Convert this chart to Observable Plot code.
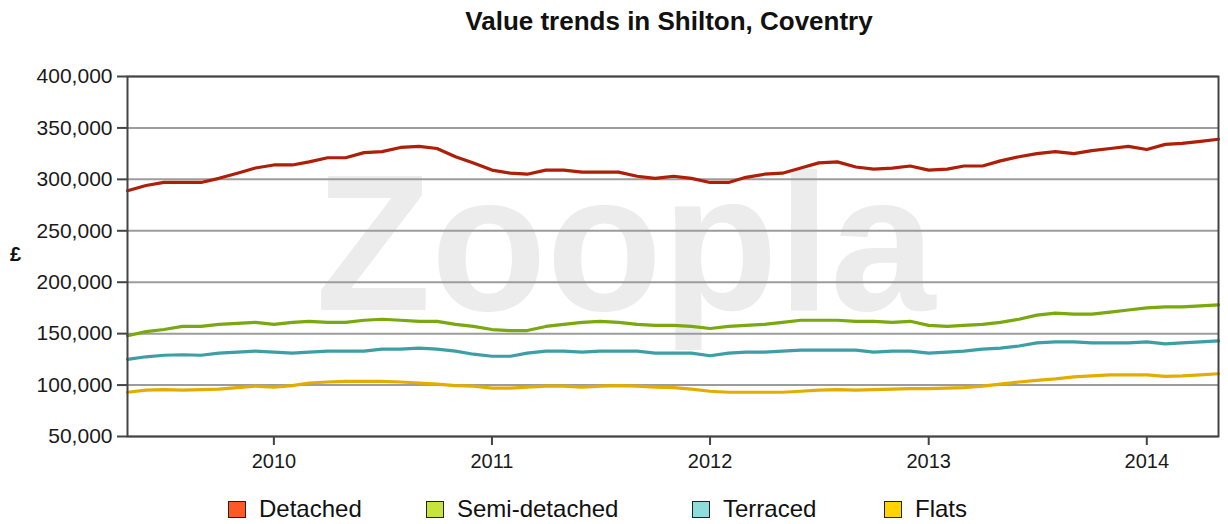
<!DOCTYPE html>
<html><head><meta charset="utf-8">
<script src="https://cdn.jsdelivr.net/npm/d3@7"></script>
<script src="https://cdn.jsdelivr.net/npm/@observablehq/plot@0.6"></script>
<style>
body{margin:0;background:#fff;font-family:"Liberation Sans",Arial,sans-serif;}
#wrap{position:relative;width:1228px;height:524px;overflow:hidden;background:#fff;}
#title{position:absolute;top:8px;left:669px;transform:translateX(-50%);font-weight:bold;font-size:26px;line-height:26px;white-space:nowrap;color:#111;}
#pound{position:absolute;left:10px;top:244px;font-weight:bold;font-size:20px;line-height:20px;color:#111;}
#chart{position:absolute;left:0;top:0;}
.li{position:absolute;top:497px;height:24px;display:flex;align-items:center;font-size:24px;line-height:24px;color:#111;white-space:nowrap;}
.sw{box-sizing:border-box;width:18px;height:17px;border:1.5px solid #222;margin-right:13px;}
</style></head><body>
<div id="wrap"><div id="chart"></div><div id="title">Value trends in Shilton, Coventry</div><div id="pound">£</div><div id="legend"></div></div>
<script>
// ---- data ----
const startMonth = "2009-05-01";
const endMonth = "2014-05-01";
const seriesNames = ["Detached", "Semi-detached", "Terraced", "Flats"];
const xTickLabels = ["2010", "2011", "2012", "2013", "2014"];
const yTicks = [50000, 100000, 150000, 200000, 250000, 300000, 350000, 400000];
// monthly values (thousands of £), May 2009 – May 2014
const detached = [
  289, 294, 297, 297, 297, 301, 306, 311,
  314, 314, 317, 321, 321, 326, 327, 331, 332, 330, 322, 316,
  309, 306, 305, 309, 309, 307, 307, 307, 303, 301, 303, 301,
  297, 297, 302, 305, 306, 311, 316, 317, 312, 310, 311, 313,
  309, 310, 313, 313, 318, 322, 325, 327, 325, 328, 330, 332,
  329, 334, 335, 337, 339
];
const semiDetached = [
  148, 152, 154, 157, 157, 159, 160, 161,
  159, 161, 162, 161, 161, 163, 164, 163, 162, 162, 159, 157,
  154, 153, 153, 157, 159, 161, 162, 161, 159, 158, 158, 157,
  155, 157, 158, 159, 161, 163, 163, 163, 162, 162, 161, 162,
  158, 157, 158, 159, 161, 164, 168, 170, 169, 169, 171, 173,
  175, 176, 176, 177, 178
];
const terraced = [
  125, 127.5, 129, 129.5, 129, 131, 132, 133,
  132, 131, 132, 133, 133, 133, 135, 135, 136, 135, 133, 130,
  128, 128, 131, 133, 133, 132, 133, 133, 133, 131, 131, 131,
  128.5, 131, 132, 132, 133, 134, 134, 134, 134, 132, 133, 133,
  131, 132, 133, 135, 136, 138, 141, 142, 142, 141, 141, 141,
  142, 140, 141, 142, 143
];
const flats = [
  93, 95, 95.5, 95, 95.5, 96, 97.5, 99,
  98, 99.5, 102, 103, 103.5, 103.5, 103.5, 103, 102, 101, 99.5, 99,
  97, 97, 98, 99, 99, 98, 99, 99.5, 99, 98, 97.5, 96,
  94, 93, 93, 93, 93, 94, 95, 95.5, 95, 95.5, 96, 96.5,
  96.5, 97, 97.5, 99, 101, 103, 104.5, 106, 108, 109, 110, 110,
  110, 108.5, 109, 110, 111
];
const lineColors = ["#ad1f08", "#79a80f", "#3d9fa5", "#e3ad00"];
const swatchColors = ["#ff5a26", "#c6e43a", "#8fdcdc", "#ffd400"];

// ---- build table ----
const months = d3.utcMonth.range(new Date(startMonth), d3.utcMonth.offset(new Date(endMonth), 1));
const seriesValues = [detached, semiDetached, terraced, flats];
const rows = [];
seriesNames.forEach((name, i) => {
  seriesValues[i].forEach((v, j) => rows.push({series: name, date: months[j], value: v * 1000}));
});
const xTicks = xTickLabels.map(y => new Date(`${y}-01-01`));

const chart = Plot.plot({
  width: 1228, height: 524,
  marginLeft: 127, marginRight: 10, marginTop: 76, marginBottom: 88,
  style: {fontFamily: "Liberation Sans, Arial, sans-serif", fontSize: "21px", color: "#1a1a1a", background: "transparent", overflow: "visible"},
  x: {type: "utc", domain: [new Date(startMonth), new Date(endMonth)]},
  y: {domain: [50000, 400000]},
  color: {domain: seriesNames, range: lineColors},
  marks: [
    Plot.text(["Zoopla"], {frameAnchor: "bottom-left", dx: 188, dy: -127, text: d => d, fontSize: 195, fontWeight: "bold", fill: "#ececec", textAnchor: "start", lineAnchor: "bottom"}),
    Plot.gridY(yTicks, {stroke: "#9c9c9c", strokeOpacity: 1, strokeWidth: 2}),
    Plot.lineY(rows, {x: "date", y: "value", z: "series", stroke: "series", strokeWidth: 3.2}),
    Plot.frame({stroke: "#444", strokeWidth: 2}),
    Plot.axisY({ticks: yTicks, tickFormat: d3.format(","), tickSize: 10, tickPadding: 5, label: null, stroke: "#444", strokeWidth: 2}),
    Plot.axisX({ticks: xTicks, tickFormat: d3.utcFormat("%Y"), tickSize: 9, tickPadding: 8, label: null, fontSize: 20, stroke: "#444", strokeWidth: 2})
  ]
});
d3.select(chart).selectAll("text").filter(function() { return this.textContent === "Zoopla"; })
  .attr("textLength", 620).attr("lengthAdjust", "spacingAndGlyphs");
document.getElementById("chart").appendChild(chart);

// ---- legend ----
const legendLeft = [228, 426, 692, 884];
const legend = document.getElementById("legend");
seriesNames.forEach((name, i) => {
  const item = document.createElement("div");
  item.className = "li";
  item.style.left = legendLeft[i] + "px";
  const sw = document.createElement("div");
  sw.className = "sw";
  sw.style.background = swatchColors[i];
  item.appendChild(sw);
  item.appendChild(document.createTextNode(name));
  legend.appendChild(item);
});
</script>
</body></html>
